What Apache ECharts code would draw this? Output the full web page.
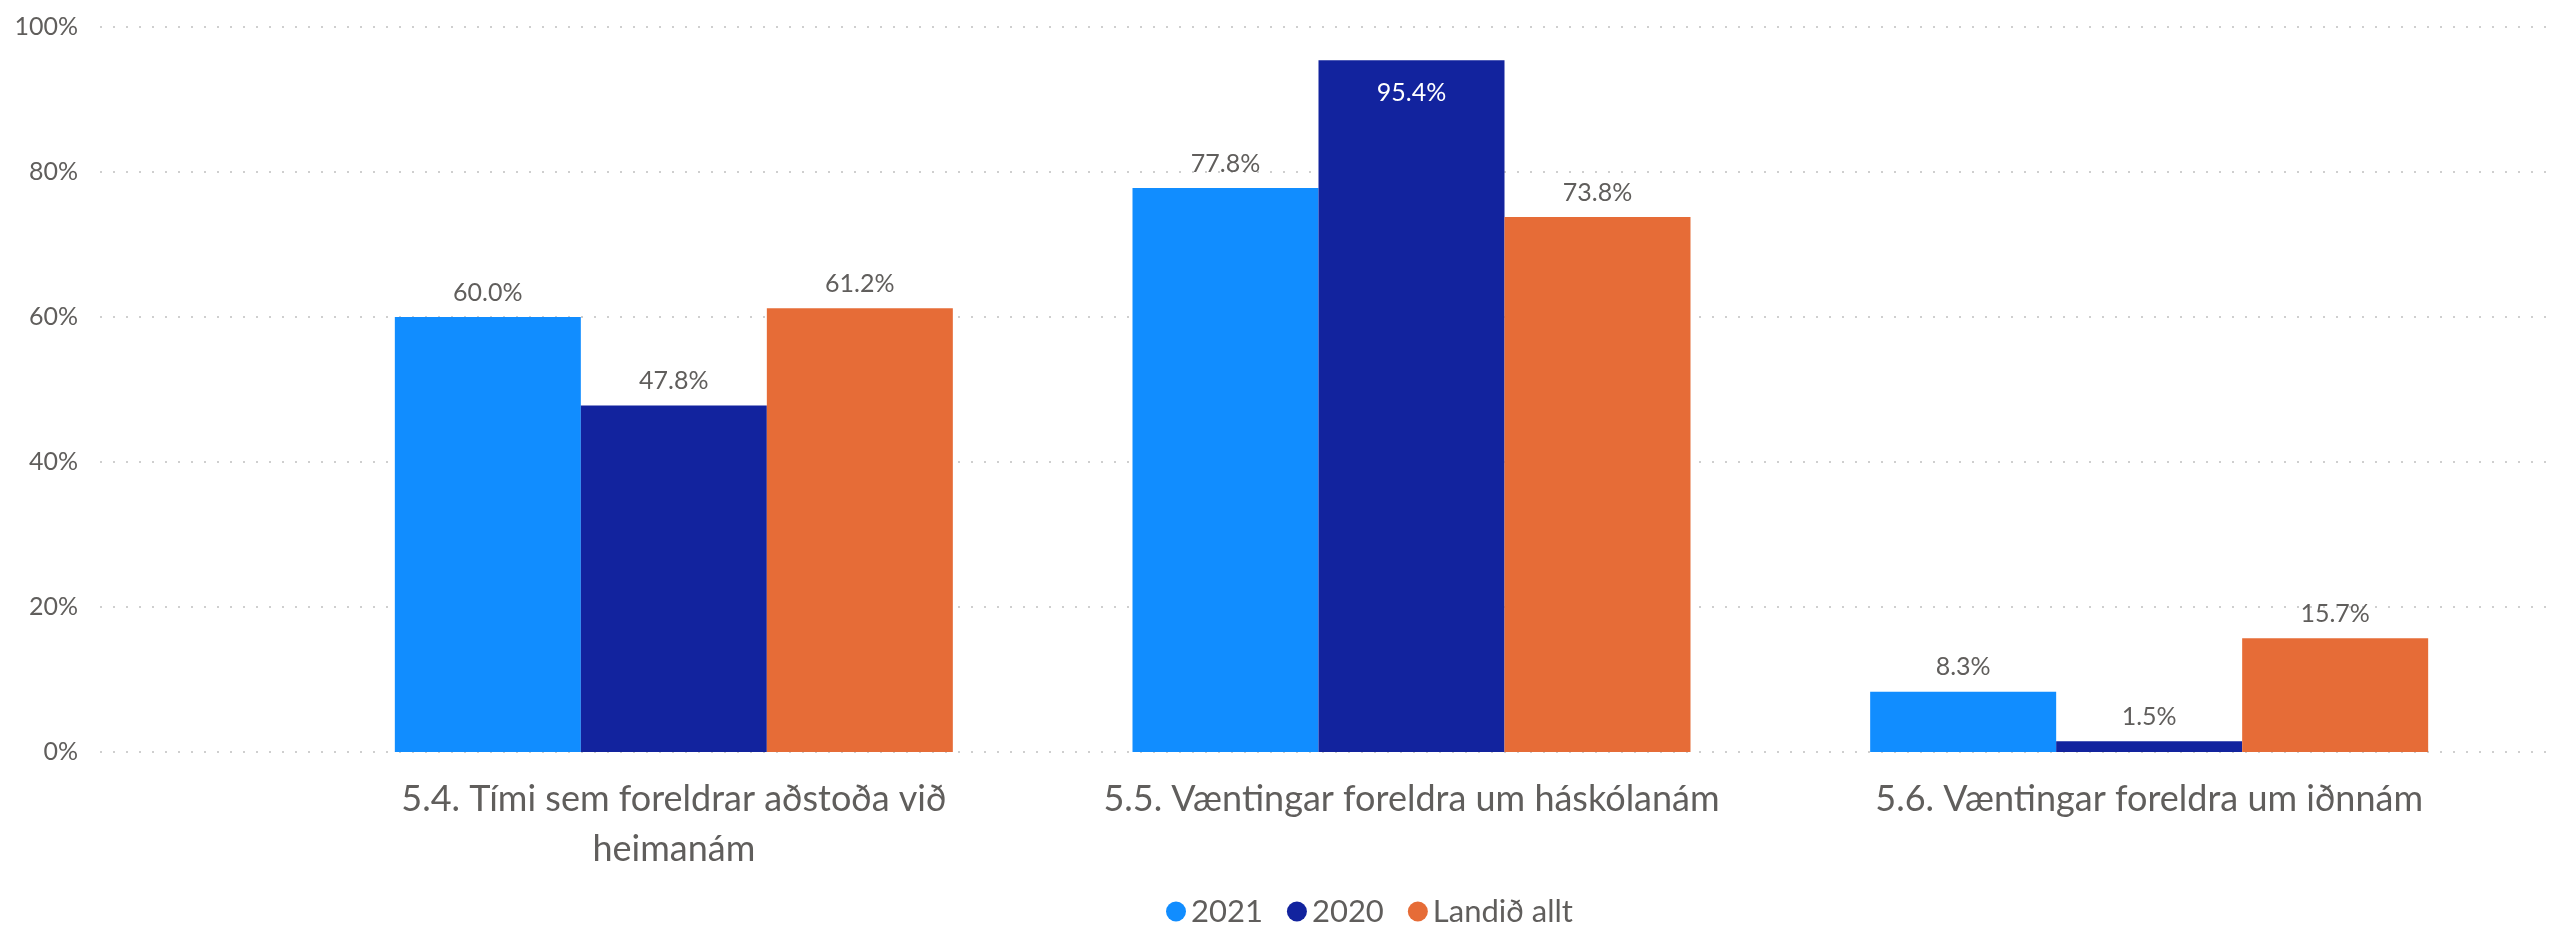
<!DOCTYPE html>
<html>

<head>
    <meta charset="UTF-8">
    <title>Foreldrar</title>
    <script src="https://cdn.jsdelivr.net/npm/echarts@6/dist/echarts.min.js"></script>
    <style>
        html, body { margin: 0; padding: 0; background: #fff; }
        #chart { width: 2552px; height: 925px; }
    </style>
</head>

<body>
    <div id="chart"></div>

    <script>
        // gögn
        var categories = [
            '5.4. Tími sem foreldrar aðstoða við heimanám',
            '5.5. Væntingar foreldra um háskólanám',
            '5.6. Væntingar foreldra um iðnnám'
        ];
        var seriesNames = ['2021', '2020', 'Landið allt'];
        var values2021 = [60.0, 77.8, 8.3];
        var values2020 = [47.8, 95.4, 1.5];
        var valuesLand = [61.2, 73.8, 15.7];
        var yTicks = [0, 20, 40, 60, 80, 100];

        var colors = ['#118DFF', '#12239E', '#E66C37'];
        var textColor = '#605E5C';
        var font = 'Lato';
        var catFontSize = 36;

        var yMin = yTicks[0], yMax = yTicks[yTicks.length - 1], yStep = yTicks[1] - yTicks[0];

        // brjóta langa flokkaheiti í línur eftir breidd
        var ctx = document.createElement('canvas').getContext('2d');
        ctx.font = catFontSize + 'px ' + font;
        function wrapLabel(text) {
            var maxW = 660;
            var words = text.split(' ');
            var lines = [], line = '';
            words.forEach(function (w) {
                var test = line ? line + ' ' + w : w;
                if (line && ctx.measureText(test).width > maxW) {
                    lines.push(line);
                    line = w;
                } else {
                    line = test;
                }
            });
            lines.push(line);
            return lines.join('\n');
        }

        // label fer inn í súluna ef hún nær næstum upp í topp
        function barData(arr) {
            return arr.map(function (v) {
                if (v > 90) {
                    return {
                        value: v,
                        label: { position: 'insideTop', distance: 20, color: '#ffffff' }
                    };
                }
                return v;
            });
        }

        function makeSeries(name, arr, i) {
            return {
                name: name,
                type: 'bar',
                xAxisIndex: 1,
                yAxisIndex: 1,
                barWidth: 186,
                barGap: '0%',
                itemStyle: { color: colors[i] },
                label: {
                    show: true,
                    position: 'top',
                    distance: 12,
                    fontFamily: font,
                    fontSize: 25,
                    color: textColor,
                    formatter: function (p) { return p.value.toFixed(1) + '%'; }
                },
                data: barData(arr)
            };
        }

        var chart = echarts.init(document.getElementById('chart'));
        var option = {
            animation: false,
            color: colors,
            textStyle: { fontFamily: font },
            grid: [
                { left: 100, right: 2, top: 27, bottom: 173 },
                { left: 305, right: 34, top: 27, bottom: 173 }
            ],
            legend: {
                data: seriesNames,
                left: 1161,
                top: 891,
                icon: 'circle',
                itemWidth: 20,
                itemHeight: 20,
                itemGap: 24,
                textStyle: { fontFamily: font, fontSize: 31, color: textColor }
            },
            xAxis: [
                {
                    gridIndex: 0,
                    type: 'category',
                    data: categories,
                    show: false
                },
                {
                    gridIndex: 1,
                    type: 'category',
                    data: categories,
                    axisLine: { show: false },
                    axisTick: { show: false },
                    axisLabel: {
                        margin: 22,
                        fontFamily: font,
                        fontSize: catFontSize,
                        lineHeight: 50,
                        color: textColor,
                        interval: 0,
                        formatter: wrapLabel
                    }
                }
            ],
            yAxis: [
                {
                    gridIndex: 0,
                    type: 'value',
                    min: yMin,
                    max: yMax,
                    interval: yStep,
                    axisLine: { show: false },
                    axisTick: { show: false },
                    axisLabel: {
                        margin: 22,
                        fontFamily: font,
                        fontSize: 25,
                        color: textColor,
                        formatter: '{value}%'
                    },
                    splitLine: {
                        lineStyle: { color: '#cfcfcf', width: 2, type: [2, 11] }
                    }
                },
                {
                    gridIndex: 1,
                    type: 'value',
                    min: yMin,
                    max: yMax,
                    interval: yStep,
                    show: false,
                    splitLine: { show: false }
                }
            ],
            series: [
                makeSeries(seriesNames[0], values2021, 0),
                makeSeries(seriesNames[1], values2020, 1),
                makeSeries(seriesNames[2], valuesLand, 2)
            ]
        };
        chart.setOption(option);
    </script>
</body>

</html>
